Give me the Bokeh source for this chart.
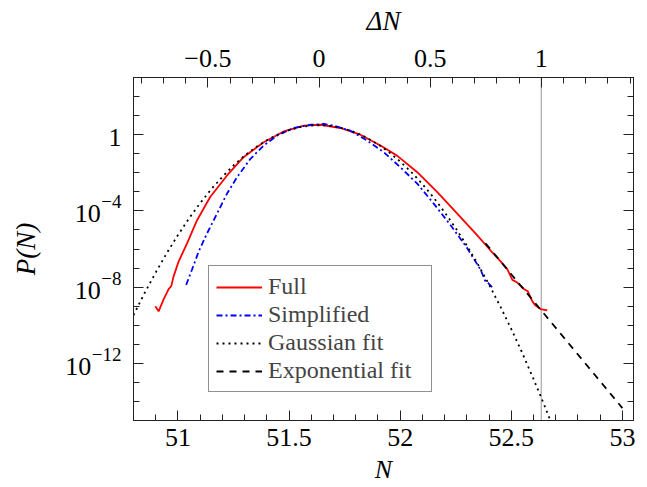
from bokeh.plotting import figure
from bokeh.layouts import row
from bokeh.models import (Range1d, LinearAxis, LogAxis, FixedTicker, SingleIntervalTicker,
                          CustomJSTickFormatter, Span, Legend, LegendItem)
from bokeh.core.properties import value
from bokeh.embed import file_html
from bokeh.resources import INLINE

# ---------------- data ----------------
N0 = 51.635  # Delta N = N - N0

full_N = [50.898, 50.913, 50.935, 50.958, 50.970, 50.980, 51.003, 51.041, 51.086, 51.145,
          51.221, 51.295, 51.386, 51.476, 51.566, 51.641, 51.731, 51.821, 51.911, 51.986,
          52.077, 52.167, 52.257, 52.347, 52.407, 52.452, 52.482, 52.505, 52.527, 52.557,
          52.575, 52.595, 52.609, 52.632, 52.662]
full_logP = [-9.01, -9.27, -8.66, -8.10, -7.95, -7.45, -6.66, -5.70, -4.49, -3.27,
             -2.14, -1.18, -0.40, 0.17, 0.47, 0.52, 0.35, 0.00, -0.57, -1.10,
             -1.97, -3.01, -4.14, -5.29, -6.08, -6.65, -7.06, -7.62, -7.76, -8.10,
             -8.23, -8.75, -8.97, -9.15, -9.22]

simp_N = [51.037, 51.063, 51.093, 51.131, 51.176, 51.221, 51.266, 51.326, 51.386, 51.446,
          51.521, 51.596, 51.656, 51.701, 51.776, 51.851, 51.926, 52.001, 52.077, 52.151,
          52.227, 52.302, 52.362, 52.377, 52.384, 52.395, 52.417]
simp_logP = [-7.88, -7.09, -6.14, -5.18, -4.14, -3.09, -2.23, -1.27, -0.57, -0.05,
             0.35, 0.52, 0.56, 0.47, 0.21, -0.31, -0.92, -1.71, -2.57, -3.62,
             -4.75, -5.96, -7.09, -7.50, -7.72, -7.78, -8.05]

gauss_N = [50.80, 50.85, 50.90, 50.95, 51.00, 51.05, 51.10, 51.15, 51.20, 51.25,
           51.30, 51.35, 51.40, 51.45, 51.50, 51.55, 51.60, 51.65, 51.70, 51.75,
           51.80, 51.85, 51.90, 51.95, 52.00, 52.05, 52.10, 52.15, 52.20, 52.25,
           52.30, 52.35, 52.40, 52.45, 52.50, 52.55, 52.60, 52.65, 52.70]
gauss_logP = [-9.47, -8.31, -7.23, -6.21, -5.27, -4.39, -3.59, -2.86, -2.21, -1.62,
              -1.10, -0.66, -0.29, 0.01, 0.24, 0.40, 0.48, 0.50, 0.44, 0.31,
              0.11, -0.16, -0.50, -0.92, -1.41, -1.96, -2.59, -3.29, -4.07, -4.91,
              -5.82, -6.81, -7.87, -9.00, -10.20, -11.47, -12.82, -14.23, -15.72]

exp_N = [52.384, 53.0]
exp_logP = [-5.70, -14.35]

series_labels = ["Full", "Simplified", "Gaussian fit", "Exponential fit"]

x_ticks_interval = 0.5
y_major_exponents = [-12, -8, -4, 0]
y_minor_exponents = list(range(-15, 4))

N_min, N_max = 50.8, 53.05
P_min, P_max = 1e-15, 1e3

# ---------------- style constants ----------------
FONT = "Liberation Serif"
TICK_SIZE = 26
SUP_SIZE = 19
H = 486
TOP, BOTTOM = 77, 65
LEFT_W = 133

y_range = Range1d(P_min, P_max)

# ---------------- main figure ----------------
p = figure(width=507, height=H, x_range=Range1d(N_min, N_max), y_range=y_range,
           y_axis_type="log", output_backend="svg", toolbar_location=None,
           min_border_left=0, min_border_right=7, min_border_top=TOP, min_border_bottom=BOTTOM)
p.extra_x_ranges = {"dN": Range1d(N_min - N0, N_max - N0)}
p.grid.visible = False
p.outline_line_color = "#222222"
p.background_fill_color = "white"
p.border_fill_color = "white"


def to_P(vals):
    return [10.0 ** v for v in vals]


r_full = p.line(full_N, to_P(full_logP), line_color="#ff0000", line_width=1.8)
r_simp = p.line(simp_N, to_P(simp_logP), line_color="#0000ff", line_width=1.8, line_dash="6 3 2 3")
r_gauss = p.line(gauss_N, to_P(gauss_logP), line_color="black", line_width=1.8, line_dash="2 4")
r_exp = p.line(exp_N, to_P(exp_logP), line_color="black", line_width=1.8, line_dash="7 6")

vline = Span(location=N0 + 1, dimension="height", line_color="#b0b0b0", line_width=1.3, level="underlay")
p.add_layout(vline)

y_ticker = FixedTicker(ticks=[10.0 ** e for e in y_major_exponents],
                       minor_ticks=[10.0 ** e for e in y_minor_exponents])
blank = CustomJSTickFormatter(code="return '';")


def style(ax, label_size=f"{TICK_SIZE}px"):
    ax.major_tick_in = 10
    ax.major_tick_out = 0
    ax.minor_tick_in = 6
    ax.minor_tick_out = 0
    ax.axis_line_color = "#222222"
    ax.major_tick_line_color = "#222222"
    ax.minor_tick_line_color = "#222222"
    ax.major_label_text_font = FONT
    ax.major_label_text_font_size = label_size
    ax.major_label_text_color = "black"
    ax.axis_label_text_font = FONT
    ax.axis_label_text_font_size = "27px"
    ax.axis_label_text_font_style = "italic"
    ax.axis_label_text_color = "black"


xb = p.xaxis[0]
xb.ticker = SingleIntervalTicker(interval=x_ticks_interval, num_minor_ticks=5)
xb.formatter = CustomJSTickFormatter(code="return String(Math.round(tick*10)/10);")
xb.axis_label = "N"
style(xb)
xb.axis_label_text_font_size = "26px"
xb.major_label_standoff = 8
xb.axis_label_standoff = 6

yl = p.yaxis[0]
yl.ticker = y_ticker
yl.formatter = blank
style(yl, label_size="0px")
yl.major_label_standoff = 0

xt = LinearAxis(x_range_name="dN", axis_label="\u0394N",
                ticker=SingleIntervalTicker(interval=x_ticks_interval, num_minor_ticks=5),
                formatter=CustomJSTickFormatter(
                    code="const v = Math.round(tick*10)/10; return v < 0 ? '\\u2212' + String(-v) : String(v);"))
style(xt)
xt.major_label_standoff = 11
xt.axis_label_standoff = 11
p.add_layout(xt, "above")

yr = LogAxis(ticker=y_ticker, formatter=blank)
style(yr, label_size="0px")
yr.major_label_standoff = 0
p.add_layout(yr, "right")

legend = Legend(items=[LegendItem(label=series_labels[0], renderers=[r_full]),
                       LegendItem(label=series_labels[1], renderers=[r_simp]),
                       LegendItem(label=series_labels[2], renderers=[r_gauss]),
                       LegendItem(label=series_labels[3], renderers=[r_exp])],
                location=(75, 28))
legend.border_line_color = "#222222"
legend.border_line_width = 1
legend.background_fill_color = "white"
legend.background_fill_alpha = 1.0
legend.padding = 7
legend.spacing = 1
legend.margin = 0
legend.glyph_width = 46
legend.glyph_height = 22
legend.label_height = 22
legend.label_width = 156
legend.label_standoff = 6
legend.label_text_font = FONT
legend.label_text_font_size = "24px"
legend.label_text_baseline = "middle"
p.add_layout(legend)

# ---------------- left panel: y tick labels (10 with raised exponent) and P(N) ----------------
lf = figure(width=LEFT_W, height=H, x_range=Range1d(0, 1), y_range=y_range,
            y_axis_type="log", x_axis_location=None, y_axis_location=None,
            output_backend="svg", toolbar_location=None,
            min_border_left=40, min_border_right=0, min_border_top=TOP, min_border_bottom=BOTTOM)
lf.grid.visible = False
lf.outline_line_color = None
lf.background_fill_color = "white"
lf.border_fill_color = "white"

ylab = LogAxis(ticker=y_ticker, formatter=blank, axis_label="P(N)")
style(ylab, label_size="0px")
ylab.axis_line_color = None
ylab.major_tick_line_color = None
ylab.minor_tick_line_color = None
ylab.major_label_standoff = 0
ylab.axis_label_standoff = 0
lf.add_layout(ylab, "left")

GAP = 12  # distance of labels from the frame
base_y, base_txt, base_off = [], [], []
sup_y, sup_txt = [], []
for e in y_major_exponents:
    if e == 0:
        base_y.append(1.0)
        base_txt.append("1")
        base_off.append(-GAP)
        continue
    s = "\u2212" + str(abs(e))
    w = SUP_SIZE * (0.572 + 0.5 * len(str(abs(e))))
    sup_y.append(10.0 ** e)
    sup_txt.append(s)
    base_y.append(10.0 ** e)
    base_txt.append("10")
    base_off.append(-GAP - w - 0.5)

lf.text(x=[1.0] * len(base_y), y=base_y, text=base_txt, x_offset=base_off, y_offset=3,
        text_align="right", text_baseline="middle", text_font=value(FONT),
        text_font_size=f"{TICK_SIZE}px", text_color="black")
lf.text(x=[1.0] * len(sup_y), y=sup_y, text=sup_txt, x_offset=-GAP, y_offset=-9,
        text_align="right", text_baseline="middle", text_font=value(FONT),
        text_font_size=f"{SUP_SIZE}px", text_color="black")

layout = row(lf, p, spacing=0)
open("out.html", "w", encoding="utf-8").write(file_html(layout, INLINE))
